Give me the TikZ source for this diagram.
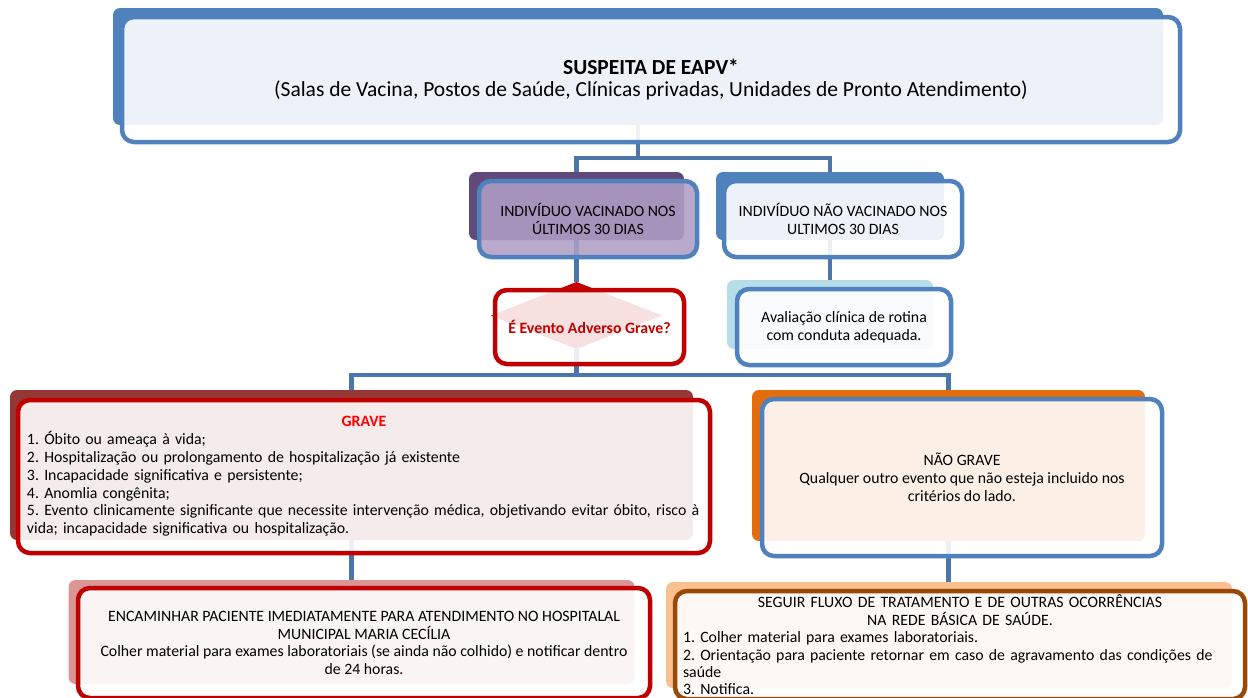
\documentclass[tikz,border=0pt]{standalone}
\usepackage{fontspec}
\setmainfont{Carlito}
\usetikzlibrary{shapes.geometric}

\definecolor{outblue}{HTML}{4F81BD}
\definecolor{linkblue}{HTML}{4A76AC}
\definecolor{vacpurple}{HTML}{604A7B}
\definecolor{vacfill}{HTML}{AF9EC4}
\definecolor{alertred}{HTML}{C00000}
\definecolor{gravetitle}{HTML}{FF0000}
\definecolor{avalcyan}{HTML}{B7DEE8}
\definecolor{gravedark}{HTML}{953735}
\definecolor{naogravecol}{HTML}{E46C0A}
\definecolor{encpink}{HTML}{D99694}
\definecolor{seguirpeach}{HTML}{FAC090}
\definecolor{seguirbrown}{HTML}{984807}

\begin{document}
\frenchspacing
\begin{tikzpicture}[x=1pt,y=-1pt,font=\fontsize{15.8}{17.8}\selectfont,
  backbox/.style={rectangle,rounded corners=7pt,inner sep=0pt,outer sep=0pt},
  frontbox/.style={rectangle,rounded corners=12pt,line width=4.5pt,fill=white,
    fill opacity=.9,text opacity=1,inner sep=0pt,outer sep=0pt,align=center},
  link/.style={draw=linkblue,line width=4.5pt}]
  \useasboundingbox (0,0) rectangle (1248,697);
  \clip (0,0) rectangle (1248,697);

  % shadow shapes behind the boxes
  \node[backbox,fill=outblue,minimum width=1050pt,minimum height=117pt] (topback) at (638,66.5) {};
  \node[backbox,fill=vacpurple,minimum width=215pt,minimum height=68pt] (vacback) at (576.5,206) {};
  \node[backbox,fill=outblue,minimum width=228pt,minimum height=68pt] (naovacback) at (830,206) {};
  \node[diamond,fill=alertred,inner sep=0pt,outer sep=0pt,minimum width=171pt,minimum height=67pt] (eventoback) at (576.5,315.5) {};
  \node[backbox,fill=avalcyan,minimum width=206pt,minimum height=69pt] (avalback) at (830,314.5) {};
  \node[backbox,fill=gravedark,minimum width=683pt,minimum height=150pt] (graveback) at (351.5,465) {};
  \node[backbox,fill=naogravecol,minimum width=393pt,minimum height=151pt] (naograveback) at (948.5,465.5) {};
  \node[backbox,fill=encpink,minimum width=566pt,minimum height=104pt] (encback) at (351.5,632) {};
  \node[backbox,fill=seguirpeach,minimum width=566pt,minimum height=106pt] (seguirback) at (949,635) {};

  % connectors
  \coordinate (split1) at (638,158);
  \coordinate (split2) at (576.5,375);
  \draw[link] (topback.south) -- (split1);
  \draw[link] (vacback.north) |- (split1) -| (naovacback.north);
  \draw[link] (vacback.south) -- (eventoback.north);
  \draw[link] (naovacback.south) -- (avalback.north);
  \draw[link] (eventoback.south) -- (split2);
  \draw[link] (graveback.north) |- (split2) -| (naograveback.north);
  \draw[link] (graveback.south) -- (graveback.south |- encback.north);
  \draw[link] (naograveback.south) -- (naograveback.south |- seguirback.north);

  % boxes
  \node[frontbox,draw=outblue,minimum width=1058pt,minimum height=125pt,font=\fontsize{21.5}{22.5}\selectfont] (topfront) at (651,79.5)
    {\textbf{SUSPEITA DE EAPV*}\\(Salas de Vacina, Postos de Saúde, Clínicas privadas, Unidades de Pronto Atendimento)};
  \node[frontbox,draw=outblue,fill=vacfill,fill opacity=.88,minimum width=218pt,minimum height=76pt] (vacfront) at (588,219)
    {INDIVÍDUO VACINADO NOS\\ÚLTIMOS 30 DIAS};
  \node[frontbox,draw=outblue,minimum width=238pt,minimum height=76pt] (naovacfront) at (843,219)
    {INDIVÍDUO NÃO VACINADO NOS\\ULTIMOS 30 DIAS};
  \node[frontbox,draw=alertred,fill opacity=.88,minimum width=189pt,minimum height=74pt] (eventofront) at (589.5,327)
    {\textcolor{alertred}{\textbf{É Evento Adverso Grave?}}};
  \node[frontbox,draw=outblue,minimum width=214pt,minimum height=76pt] (avalfront) at (844,327)
    {Avaliação clínica de rotina\\com conduta adequada.};
  \node[frontbox,draw=alertred,minimum width=692pt,minimum height=153pt,text width=674pt,align=left] (gravefront) at (364,476.5)
    {{\centering\textcolor{gravetitle}{\textbf{GRAVE}}\par}
     1. Óbito ou ameaça à vida;\\
     2. Hospitalização ou prolongamento de hospitalização já existente\\
     3. Incapacidade significativa e persistente;\\
     4. Anomlia congênita;\\
     \mbox{5. Evento clinicamente significante que necessite intervenção médica, objetivando evitar óbito, risco à}\\
     vida; incapacidade significativa ou hospitalização.};
  \node[frontbox,draw=outblue,minimum width=400pt,minimum height=157pt] (naogravefront) at (962,477.5)
    {NÃO GRAVE\\Qualquer outro evento que não esteja incluido nos\\critérios do lado.};
  \node[frontbox,draw=alertred,minimum width=572pt,minimum height=110pt] (encfront) at (364,643)
    {ENCAMINHAR PACIENTE IMEDIATAMENTE PARA ATENDIMENTO NO HOSPITALAL\\
     MUNICIPAL MARIA CECÍLIA\\
     Colher material para exames laboratoriais (se ainda não colhido) e notificar dentro\\
     de 24 horas.};
  \node[frontbox,draw=seguirbrown,minimum width=570pt,minimum height=108pt,text width=554pt,align=left,
    font=\fontsize{15.8}{17.4}\selectfont] (seguirfront) at (960,645)
    {{\centering SEGUIR FLUXO DE TRATAMENTO E DE OUTRAS OCORRÊNCIAS\\NA REDE BÁSICA DE SAÚDE.\par}
     1. Colher material para exames laboratoriais.\\
     2. Orientação para paciente retornar em caso de agravamento das condições de\\
     saúde\\
     3. Notifica.};
\end{tikzpicture}
\end{document}
